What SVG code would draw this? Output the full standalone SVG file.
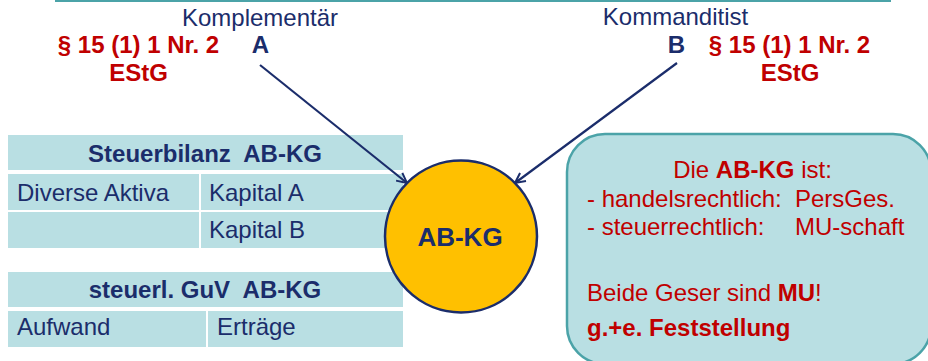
<svg xmlns="http://www.w3.org/2000/svg" width="928" height="361" viewBox="0 0 928 361">
<style>
text{font-family:"Liberation Sans",Arial,sans-serif;font-size:24px}
.navy{fill:#1B2D6B}
.red{fill:#C00000}
.b{font-weight:bold}
.cell{fill:#B9DFE3}
.conn{stroke:#1B2D6B;stroke-width:2.2;fill:none}
</style>
<defs>
<marker id="arr" viewBox="0 0 12 12" refX="11" refY="6" markerWidth="12" markerHeight="12" markerUnits="userSpaceOnUse" orient="auto">
<path d="M1,1 L11,6 L1,11" fill="none" stroke="#1B2D6B" stroke-width="2"/>
</marker>
</defs>
<rect width="928" height="361" fill="#fff"/>
<line x1="55" y1="1" x2="891" y2="1" stroke="#4BA3A8" stroke-width="2"/>

<g id="partnerA">
<text class="navy" x="260" y="26" text-anchor="middle">Komplementär</text>
<text class="navy b" x="260.5" y="53" text-anchor="middle">A</text>
<text class="red b" x="138.5" y="53" text-anchor="middle">§ 15 (1) 1 Nr. 2</text>
<text class="red b" x="138.5" y="81" text-anchor="middle">EStG</text>
</g>

<g id="partnerB">
<text class="navy" x="675.5" y="25" text-anchor="middle">Kommanditist</text>
<text class="navy b" x="676.5" y="53" text-anchor="middle">B</text>
<text class="red b" x="789.5" y="53" text-anchor="middle">§ 15 (1) 1 Nr. 2</text>
<text class="red b" x="790" y="81" text-anchor="middle">EStG</text>
</g>

<g id="steuerbilanz">
<rect class="cell" x="8" y="135" width="395" height="35"/>
<rect class="cell" x="8" y="174" width="191" height="36"/>
<rect class="cell" x="201" y="174" width="202" height="36"/>
<rect class="cell" x="8" y="212" width="191" height="36"/>
<rect class="cell" x="201" y="212" width="202" height="36"/>
<text class="navy b" x="205" y="162" text-anchor="middle" xml:space="preserve">Steuerbilanz  AB-KG</text>
<text class="navy" x="17" y="201">Diverse Aktiva</text>
<text class="navy" x="209" y="201">Kapital A</text>
<text class="navy" x="209" y="238">Kapital B</text>
</g>

<g id="guv">
<rect class="cell" x="8" y="272" width="395" height="35"/>
<rect class="cell" x="8" y="311" width="198" height="36"/>
<rect class="cell" x="208" y="311" width="195" height="36"/>
<text class="navy b" x="205" y="298" text-anchor="middle" xml:space="preserve">steuerl. GuV  AB-KG</text>
<text class="navy" x="17" y="335">Aufwand</text>
<text class="navy" x="217" y="335">Erträge</text>
</g>

<g id="abkg">
<circle cx="461" cy="236.5" r="76" fill="#FFC000" stroke="#1B2D6B" stroke-width="2.5"/>
<text class="navy b" x="460" y="246" text-anchor="middle" style="font-size:26px">AB-KG</text>
</g>

<g id="info">
<rect x="567" y="134" width="364" height="230" rx="38" ry="38" fill="#B9DFE3" stroke="#4BA3A8" stroke-width="2.5"/>
<text class="red" x="752.5" y="178" text-anchor="middle">Die <tspan class="b">AB-KG</tspan> ist:</text>
<text class="red" x="587" y="207">- handelsrechtlich:<tspan x="795">PersGes.</tspan></text>
<text class="red" x="587" y="235">- steuerrechtlich:<tspan x="795">MU-schaft</tspan></text>
<text class="red" x="587" y="301">Beide Geser sind <tspan class="b">MU</tspan>!</text>
<text class="red b" x="587" y="336">g.+e. Feststellung</text>
</g>

<g id="connectors">
<line class="conn" x1="260" y1="65" x2="407" y2="183" marker-end="url(#arr)"/>
<line class="conn" x1="677" y1="63" x2="515" y2="183" marker-end="url(#arr)"/>
</g>
</svg>
